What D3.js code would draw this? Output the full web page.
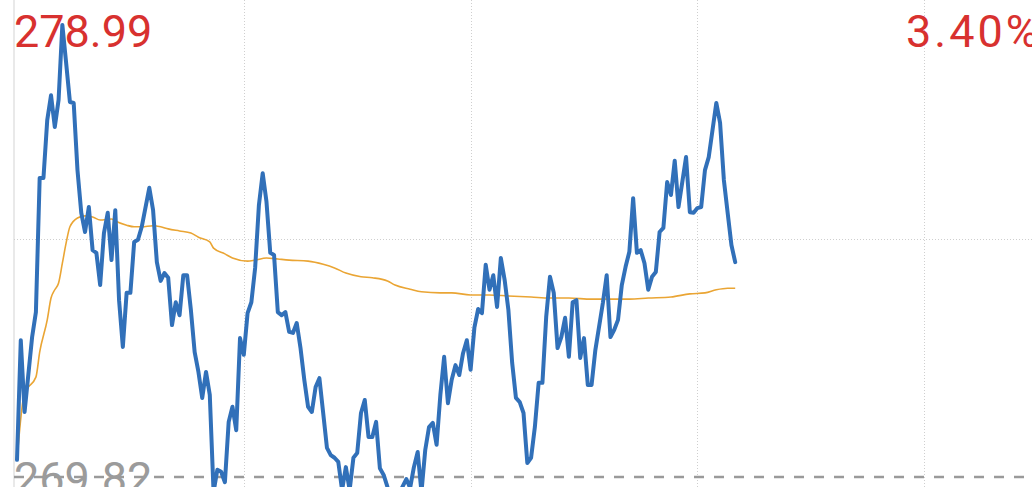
<!DOCTYPE html>
<html>
<head>
<meta charset="utf-8">
<script src="https://cdn.jsdelivr.net/npm/d3@7"></script>
<style>
html,body{margin:0;padding:0;background:#fff;overflow:hidden;}
svg{display:block;}
</style>
</head>
<body>
<svg id="chart" width="1032" height="487"></svg>
<script>
// ---- data ----
const priceTop = 278.99;
const prevClose = 269.82;
const topLabel = "278.99";
const pctLabel = "3.40%";
const bottomLabel = "269.82";
const gridMinutes = [60, 120, 180, 240];

const priceMinutes = [0,1,2,4,5,6,7,8,9,10,11,12,13,14,15,16,17,18,19,20,21,22,23,24,25,26,27,28,29,30,31,32,33,35,36,37,38,39,40,41,42,43,44,45,46,47,48,49,50,51,52,53,54,55,56,57,58,59,60,61,62,63,64,65,66,67,68,69,70,71,72,73,74,75,76,77,78,79,80,81,82,83,84,85,86,87,88,89,90,91,92,93,94,95,96,97,98,99,101,103,104,105,106,107,108,109,110,111,112,113,114,115,116,117,118,119,120,121,122,123,124,125,126,127,128,129,130,131,132,133,134,135,136,137,138,139,140,141,142,143,144,145,146,147,148,149,150,151,152,153,155,156,157,158,159,160,161,162,163,164,165,166,167,168,169,170,171,172,173,174,175,177,178,179,180,181,182,183,185,186,187,188,189,190];
const priceValues = [270.15,272.45,271.07,272.51,272.99,275.57,275.57,276.68,277.16,276.55,277.07,278.51,277.78,277.03,277.01,275.72,274.90,274.53,275.01,274.18,274.13,273.51,274.51,274.90,273.99,274.95,273.22,272.32,273.36,273.36,274.34,274.38,274.63,275.38,274.95,273.95,273.59,273.74,273.65,272.74,273.18,272.93,273.70,273.70,273.03,272.22,271.84,271.34,271.84,271.40,269.53,269.96,269.92,269.72,270.88,271.17,270.72,272.49,272.17,272.97,273.18,273.84,275.05,275.66,275.11,274.13,274.09,272.99,272.93,272.99,272.61,272.59,272.78,272.30,271.69,271.17,271.07,271.55,271.72,271.05,270.38,270.24,270.19,270.11,269.57,270.01,269.57,270.19,270.28,271.05,271.30,270.59,270.59,270.88,269.99,269.86,269.63,269.44,269.49,269.78,269.61,270.01,270.30,269.53,270.34,270.78,270.86,270.44,271.40,272.13,271.24,271.69,271.97,271.78,272.20,272.45,271.88,272.69,273.05,272.97,273.90,273.42,273.70,273.09,274.03,273.61,273.03,272.01,271.34,271.26,271.05,270.09,270.19,270.78,271.63,271.63,272.90,273.67,273.36,272.30,272.51,272.88,272.13,273.18,273.22,272.11,272.49,271.59,271.59,272.26,273.17,273.70,272.51,272.65,272.84,273.51,273.86,274.15,275.18,274.13,274.18,273.93,273.42,273.67,273.76,274.53,274.61,275.49,275.24,275.90,275.01,275.97,274.91,274.90,274.99,275.01,275.72,275.97,277.01,276.63,275.53,274.90,274.28,273.95];

const avgMinutes = [0,2,3,5,6,8,9,10,11,12,13,14,16,18,20,22,25,26,29,31,33,36,38,40,43,46,48,51,52,55,57,61,63,66,69,72,77,81,84,87,91,94,98,100,104,107,112,115,120,125,130,136,141,146,152,157,162,167,173,178,182,185,188,190];
const avgValues = [270.15,271.45,271.55,271.74,272.22,272.84,273.26,273.42,273.55,273.93,274.32,274.63,274.80,274.84,274.82,274.76,274.78,274.74,274.66,274.63,274.63,274.65,274.63,274.59,274.55,274.51,274.43,274.34,274.22,274.11,274.03,273.97,273.99,274.03,274.01,273.99,273.97,273.91,273.84,273.74,273.67,273.65,273.59,273.51,273.43,273.38,273.36,273.36,273.32,273.32,273.30,273.28,273.26,273.26,273.24,273.24,273.24,273.26,273.28,273.34,273.36,273.42,273.45,273.45];

// ---- layout ----
const W = 1032, H = 487;
const svg = d3.select("#chart");
const x = d3.scaleLinear().domain([0, 240]).range([17, 924.2]);
const y = d3.scaleLinear().domain([prevClose, priceTop]).range([477, 0]);
const plotLeft = 14;

// left border
svg.append("line").attr("x1", plotLeft).attr("x2", plotLeft).attr("y1", 0).attr("y2", H)
  .attr("stroke", "#e2e2e2").attr("stroke-width", 1.5);

// vertical dotted grid
svg.selectAll(".vgrid").data(gridMinutes).enter().append("line")
  .attr("x1", d => Math.round(x(d)) + 0.5).attr("x2", d => Math.round(x(d)) + 0.5)
  .attr("y1", 0).attr("y2", H)
  .attr("stroke", "#cfcfcf").attr("stroke-width", 1).attr("stroke-dasharray", "1,2");

// horizontal mid dotted grid
const midPrice = (priceTop + prevClose) / 2;
svg.append("line").attr("x1", plotLeft).attr("x2", W)
  .attr("y1", Math.round(y(midPrice)) + 0.5).attr("y2", Math.round(y(midPrice)) + 0.5)
  .attr("stroke", "#cfcfcf").attr("stroke-width", 1).attr("stroke-dasharray", "1,2");

// prev close dashed line
svg.append("line").attr("x1", plotLeft).attr("x2", W)
  .attr("y1", y(prevClose)).attr("y2", y(prevClose))
  .attr("stroke", "#9a9a9a").attr("stroke-width", 2.5).attr("stroke-dasharray", "10,10");

// avg line
const avgData = avgMinutes.map((m, i) => [m, avgValues[i]]);
svg.append("path").datum(avgData)
  .attr("fill", "none").attr("stroke", "#EAA534").attr("stroke-width", 1.6)
  .attr("stroke-linejoin", "round")
  .attr("d", d3.line().x(d => x(d[0])).y(d => y(d[1])).curve(d3.curveMonotoneX));

// price line
const priceData = priceMinutes.map((m, i) => [m, priceValues[i]]);
svg.append("path").datum(priceData)
  .attr("fill", "none").attr("stroke", "#3170B9").attr("stroke-width", 4)
  .attr("stroke-linejoin", "round").attr("stroke-linecap", "round")
  .attr("d", d3.line().x(d => x(d[0])).y(d => y(d[1])));

// labels
const font = "Roboto, 'Noto Sans', sans-serif";
svg.append("text").attr("x", 14).attr("y", 47).text(topLabel)
  .attr("font-family", font).attr("font-size", 45).attr("fill", "#D8312F");
svg.append("text").attr("x", 906).attr("y", 47).text(pctLabel)
  .attr("font-family", font).attr("font-size", 45).attr("letter-spacing", 3).attr("fill", "#D8312F");
svg.append("text").attr("x", 14).attr("y", 494).text(bottomLabel)
  .attr("font-family", font).attr("font-size", 45).attr("fill", "#9b9b9b");
</script>
</body>
</html>
